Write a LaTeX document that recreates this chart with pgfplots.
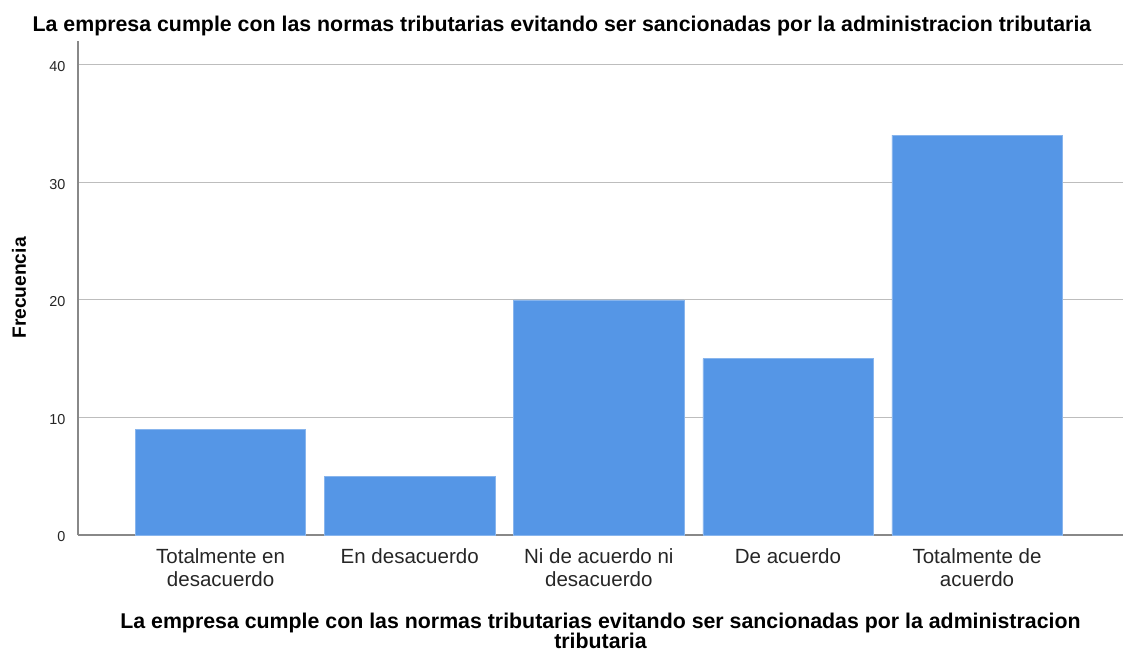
\documentclass[border=0pt]{standalone}
\usepackage{fontspec}
\setmainfont{Liberation Sans}
\usepackage{pgfplots}
\pgfplotsset{compat=1.18}
\definecolor{barblue}{HTML}{5596E6}
\definecolor{gridgray}{HTML}{BDBDBD}
\definecolor{axisgray}{HTML}{888888}
\begin{document}
\begin{tikzpicture}
\begin{axis}[
  scale only axis,
  width=783.75pt, height=370.5pt,
  anchor=south west, at={(0,0)},
  xmin=-0.754, xmax=4.772,
  ymin=0, ymax=42,
  axis x line=bottom, axis y line=left,
  axis line style={-, draw=axisgray, line width=0.9pt},
  ytick={0,10,20,30,40},
  ymajorgrids,
  grid style={gridgray, line width=0.9pt},
  major tick length=0pt,
  xtick=data,
  xticklabels={{Totalmente en\\desacuerdo},{En desacuerdo},{Ni de acuerdo ni\\desacuerdo},{De acuerdo},{Totalmente de\\acuerdo}},
  xticklabel style={font=\fontsize{15.4pt}{17.25pt}\selectfont, align=center, anchor=north, yshift=-6.5pt, text=black!85},
  yticklabel style={font=\fontsize{10.8pt}{13pt}\selectfont, anchor=east, xshift=-6pt, yshift=-1.5pt, text=black!85},
  /pgf/number format/assume math mode=true,
  ylabel={Frecuencia},
  ylabel style={font=\bfseries\fontsize{14.4pt}{16pt}\selectfont, at={(axis description cs:0,0.5)}, anchor=south, xshift=0pt, yshift=35.5pt, rotate=0},
  xlabel={La empresa cumple con las normas tributarias evitando ser sancionadas por la administracion\\tributaria},
  xlabel style={font=\bfseries\fontsize{16pt}{15pt}\selectfont, align=center, at={(axis description cs:0.5,0)}, anchor=north, yshift=-55pt},
]
\addplot[ybar, bar width=0.9, fill=barblue, draw=barblue!70!white, line width=0.4pt] coordinates {
  (0,9) (1,5) (2,20) (3,15) (4,34)
};
\end{axis}
\node[font=\bfseries\fontsize{16pt}{18pt}\selectfont, anchor=center] at (363pt,382pt) {La empresa cumple con las normas tributarias evitando ser sancionadas por la administracion tributaria};
\pgfresetboundingbox
\path[use as bounding box] (-58.5pt,-87pt) rectangle (786pt,401.25pt);
\end{tikzpicture}
\end{document}
